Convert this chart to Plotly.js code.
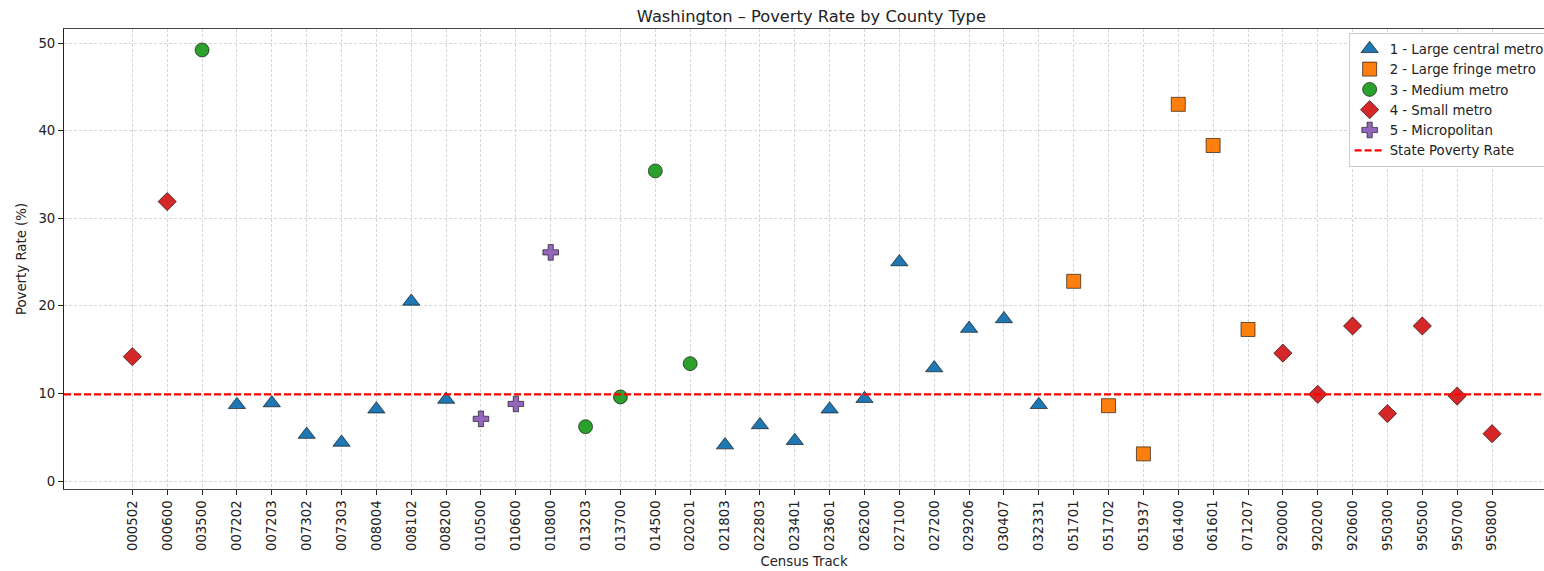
<!DOCTYPE html>
<html>
<head>
<meta charset="utf-8">
<script src="https://cdn.plot.ly/plotly-3.0.1.min.js"></script>
<style>html,body{margin:0;padding:0;overflow:hidden;background:#fff}#chart{width:1544px;height:571px}</style>
</head>
<body>
<div id="chart"></div>
<script>
const tracts = ["000502","000600","003500","007202","007203","007302","007303","008004","008102","008200",
  "010500","010600","010800","013203","013700","014500","020201","021803","022803","023401",
  "023601","026200","027100","027200","029206","030407","032331","051701","051702","051937",
  "061400","061601","071207","920000","920200","920600","950300","950500","950700","950800"];
const rates = [14.2,31.9,49.2,8.7,8.9,5.3,4.4,8.2,20.5,9.3,
  7.1,8.8,26.1,6.2,9.6,35.4,13.4,4.1,6.4,4.6,
  8.2,9.4,25.0,12.9,17.4,18.5,8.7,22.8,8.6,3.1,
  43.0,38.3,17.3,14.6,9.9,17.7,7.7,17.7,9.7,5.4];
const countyType = [4,4,3,1,1,1,1,1,1,1,
  5,5,5,3,3,3,3,1,1,1,
  1,1,1,1,1,1,1,2,2,2,
  2,2,2,4,4,4,4,4,4,4];
const typeNames = {1:"1 - Large central metro",2:"2 - Large fringe metro",3:"3 - Medium metro",4:"4 - Small metro",5:"5 - Micropolitan"};
const stateRate = 9.9;

const styles = {
  1:{symbol:"triangle-up",color:"#1f77b4",size:15},
  2:{symbol:"square",color:"#ff7f0e",size:14},
  3:{symbol:"circle",color:"#2ca02c",size:14},
  4:{symbol:"diamond",color:"#d62728",size:14},
  5:{symbol:"cross",color:"#9467bd",size:13}
};

const traces = [1,2,3,4,5].map(t => {
  const xs = [], ys = [];
  tracts.forEach((tr,i) => { if (countyType[i] === t) { xs.push(tr); ys.push(rates[i]); } });
  return {
    type:"scatter", mode:"markers", x:xs, y:ys, name:typeNames[t],
    marker:{symbol:styles[t].symbol, color:styles[t].color, size:styles[t].size,
      line:{color:"rgba(0,0,0,0.75)", width:0.8}},
    hoverinfo:"x+y"
  };
});

const font = "DejaVu Sans, sans-serif";
const fs = 13.3;
const layout = {
  width:1544, height:571,
  margin:{l:64, r:0, t:29, b:82, autoexpand:false},
  paper_bgcolor:"#fff", plot_bgcolor:"#fff",
  font:{family:font, size:fs, color:"#222"},
  title:{text:"Washington – Poverty Rate by County Type", font:{family:font, size:16.3, color:"#222"},
    x:0.505, xref:"paper", xanchor:"center", y:0.972, yref:"container", yanchor:"middle"},
  xaxis:{type:"category", categoryorder:"array", categoryarray:tracts, range:[-1.96,40.49],
    tickangle:-90, ticks:"outside", ticklen:5, tickcolor:"#222",
    showgrid:true, gridcolor:"#d6d6d6", gridwidth:0.6, griddash:"3px,2px",
    showline:true, linecolor:"#444", linewidth:1, mirror:true, zeroline:false,
    title:{text:"Census Track", font:{family:font, size:fs}, standoff:6}, automargin:false},
  yaxis:{range:[-0.91,51.6], tickvals:[0,10,20,30,40,50], ticks:"outside", ticklen:5, tickcolor:"#222",
    showgrid:true, gridcolor:"#d6d6d6", gridwidth:0.6, griddash:"3px,2px",
    showline:true, linecolor:"#222", linewidth:1, zeroline:false,
    title:{text:"Poverty Rate (%)", font:{family:font, size:fs}, standoff:8}, automargin:false},
  legend:{x:0.868, xanchor:"left", y:0.992, yanchor:"top", bgcolor:"rgba(255,255,255,0.9)",
    bordercolor:"#cccccc", borderwidth:1, font:{family:font, size:fs}, itemwidth:30},
  shapes:[{type:"line", xref:"paper", x0:0, x1:1, yref:"y", y0:stateRate, y1:stateRate,
    line:{color:"#ff0000", width:2.2, dash:"7px,3px"}, showlegend:true, name:"State Poverty Rate"}],
  showlegend:true
};

Plotly.newPlot("chart", traces, layout, {displayModeBar:false, staticPlot:false});
</script>
</body>
</html>
